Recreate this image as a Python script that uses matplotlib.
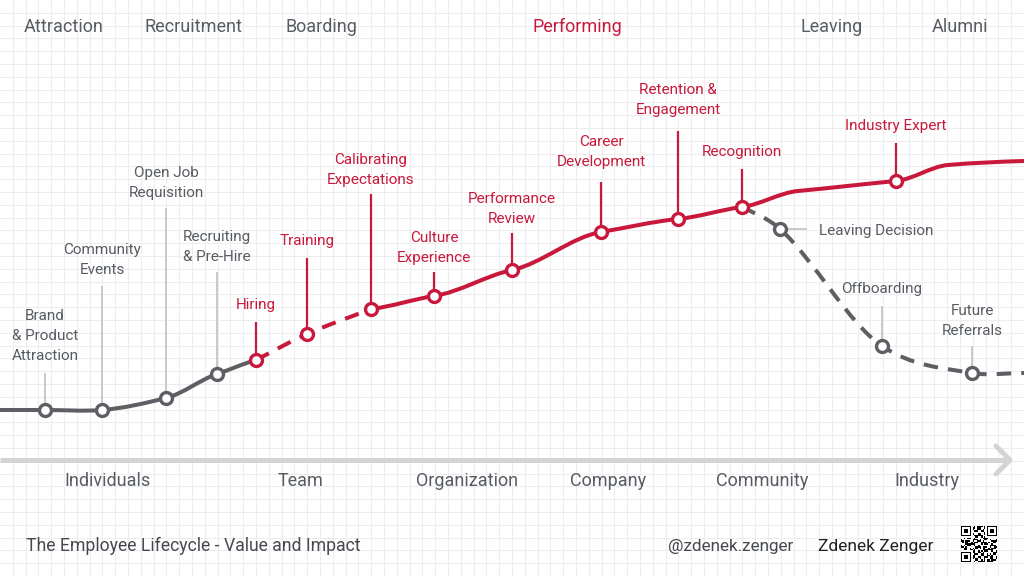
import numpy as np
import matplotlib
matplotlib.use("Agg")
import matplotlib.pyplot as plt
from matplotlib.path import Path
from matplotlib.patches import PathPatch

# ---------------- data ----------------
stages = ["Attraction", "Recruitment", "Boarding", "Performing", "Leaving", "Alumni"]
stage_x = [64, 193, 321, 577, 832, 960]
scopes = ["Individuals", "Team", "Organization", "Company", "Community", "Industry"]
scope_x = [108, 301, 467, 608, 762, 927]

# value curves (x = position along lifecycle, v = value/impact)
early_x = [0, 45, 102, 166, 217, 256]
early_v = [166, 166, 166, 178, 202, 216]
onboard_x = [256, 307, 371]
onboard_v = [216, 242, 267]
growth_x = [371, 434, 512, 601, 678, 742, 798, 896, 948, 1024]
growth_v = [267, 280, 306, 344, 357, 369, 385, 395, 411, 415]
exit_x = [742, 780, 882, 972, 1024]
exit_v = [369, 347, 230, 203, 203]

milestones = ["Brand\n& Product\nAttraction", "Community\nEvents", "Open Job\nRequisition",
              "Recruiting\n& Pre-Hire", "Hiring", "Training", "Calibrating\nExpectations",
              "Culture\nExperience", "Performance\nReview", "Career\nDevelopment",
              "Retention &\nEngagement", "Recognition", "Industry Expert",
              "Leaving Decision", "Offboarding", "Future\nReferrals"]
milestone_x = [45, 102, 166, 217, 256, 307, 371, 434, 512, 601, 678, 742, 896, 780, 882, 972]
milestone_v = [166, 166, 178, 202, 216, 242, 267, 280, 306, 344, 357, 369, 395, 347, 230, 203]
milestone_red = [False, False, False, False, True, True, True, True, True, True, True, True, True,
                 False, False, False]

title = "The Employee Lifecycle - Value and Impact"
handle = "@zdenek.zenger"
author = "Zdenek Zenger"

# ---------------- style ----------------
RED = "#c8193c"
GRAY = "#5e5f64"
TXT = "#575c63"
LEAD = "#c8c8c8"
FONT = ["Roboto", "DejaVu Sans"]
W, H = 1024, 576
TSHIFT = 2  # text baseline nudge (px, downward)

def Y(px):
    return H - px

fig = plt.figure(figsize=(10.24, 5.76), dpi=100)
ax = fig.add_axes([0, 0, 1, 1])
ax.set_xlim(0, W)
ax.set_ylim(0, H)
ax.axis("off")
fig.patch.set_facecolor("white")

# grid background
step = 12.8
for k in range(1, 80):
    ax.axvline(k * step, color="#ededed", lw=0.8, zorder=0)
for k in range(1, 45):
    ax.axhline(H - k * step, color="#ededed", lw=0.8, zorder=0)


def smooth_path(xs, vs, k):
    xs = np.asarray(xs, float)
    vs = np.asarray(vs, float)
    n = len(xs)
    m = np.zeros(n)
    for i in range(n):
        if i == 0:
            m[i] = (vs[1] - vs[0]) / (xs[1] - xs[0])
        elif i == n - 1:
            m[i] = (vs[-1] - vs[-2]) / (xs[-1] - xs[-2])
        else:
            m[i] = (vs[i + 1] - vs[i - 1]) / (xs[i + 1] - xs[i - 1])
    m *= k
    verts = [(xs[0], vs[0])]
    codes = [Path.MOVETO]
    for i in range(n - 1):
        dx = xs[i + 1] - xs[i]
        verts += [(xs[i] + dx / 3, vs[i] + m[i] * dx / 3),
                  (xs[i + 1] - dx / 3, vs[i + 1] - m[i + 1] * dx / 3),
                  (xs[i + 1], vs[i + 1])]
        codes += [Path.CURVE4] * 3
    return Path(verts, codes)


LW = 2.9
def curve(xs, vs, color, k, dashed=False, z=3):
    ls = (0, (3.6, 2.5)) if dashed else "-"
    p = PathPatch(smooth_path(xs, vs, k), facecolor="none", edgecolor=color, lw=LW,
                  linestyle=ls, capstyle="butt", joinstyle="round", zorder=z)
    ax.add_patch(p)

curve(early_x, early_v, GRAY, 0.8)
curve(onboard_x, onboard_v, RED, 1.0, dashed=True)
curve(growth_x, growth_v, RED, 0.55)
curve(exit_x, exit_v, GRAY, 0.9, dashed=True, z=2)

# label layout: (leader length px, gap from leader top to last text line centre px)
layout = {
    "Brand\n& Product\nAttraction": (37, 19),
    "Community\nEvents": (124, 18),
    "Open Job\nRequisition": (190, 17),
    "Recruiting\n& Pre-Hire": (102, 17),
    "Hiring": (38, 19),
    "Training": (76, 19),
    "Calibrating\nExpectations": (115, 16),
    "Culture\nExperience": (24, 16),
    "Performance\nReview": (37, 16),
    "Career\nDevelopment": (50, 22),
    "Retention &\nEngagement": (88, 23),
    "Recognition": (38, 19),
    "Industry Expert": (38, 19),
    "Offboarding": (40, 19),
    "Future\nReferrals": (27, 17),
}
LSP = 20
for name, x, v, red in zip(milestones, milestone_x, milestone_v, milestone_red):
    col = RED if red else GRAY
    tcol = RED if red else TXT
    lcol = RED if red else LEAD
    ax.plot([x], [v], marker="o", ms=8.6, mfc="white", mec=col, mew=2.4, zorder=5)
    if name in layout:
        L, g = layout[name]
        ax.plot([x, x], [v + 6, v + L], color=lcol, lw=1.6 if red else 1.4,
                solid_capstyle="butt", zorder=1)
        lines = name.split("\n")
        n = len(lines)
        base = v + L + g - TSHIFT
        for i, ln in enumerate(lines):
            ax.text(x, base + (n - 1 - i) * LSP, ln, ha="center", va="center",
                    fontsize=11, color=tcol, family=FONT, zorder=6)
    else:
        # horizontal leader to the right
        ax.plot([x + 7, x + 26], [v, v], color=lcol, lw=1.4, zorder=1)
        ax.text(x + 39, v - TSHIFT, name, ha="left", va="center", fontsize=11, color=tcol,
                family=FONT, zorder=6)

# stage headers
for s, x in zip(stages, stage_x):
    ax.text(x, Y(25) - TSHIFT, s, ha="center", va="center", fontsize=13,
            color=RED if s == "Performing" else TXT, family=FONT)

# baseline arrow
ax.plot([0, 1008], [Y(460), Y(460)], color="#d4d4d4", lw=3.6, solid_capstyle="butt", zorder=1)
ax.plot([996, 1010, 996], [Y(446), Y(460), Y(474)], color="#d4d4d4", lw=3.6,
        solid_capstyle="round", solid_joinstyle="round", zorder=1)

for s, x in zip(scopes, scope_x):
    ax.text(x, Y(479) - TSHIFT, s, ha="center", va="center", fontsize=13, color=TXT, family=FONT)

# footer
ax.text(26, Y(544) - TSHIFT, title, ha="left", va="center", fontsize=12.7, color="#45494f", family=FONT)
ax.text(731, Y(544) - TSHIFT, handle, ha="center", va="center", fontsize=12.3, color="#45494f", family=FONT)
ax.text(876, Y(544) - TSHIFT, author, ha="center", va="center", fontsize=12.5, color="#202226", family=FONT)

# QR-code-like glyph
N = 25
qr = np.zeros((N, N))
seed = (handle * 60).encode()
bits = np.unpackbits(np.frombuffer(seed, dtype=np.uint8))
qr[:, :] = bits[: N * N].reshape(N, N)
qr[::2, 1::3] = 1 - qr[::2, 1::3]
def finder(r, c):
    qr[r:r + 8, c:c + 8] = 0
    qr[r:r + 7, c:c + 7] = 1
    qr[r + 1:r + 6, c + 1:c + 6] = 0
    qr[r + 2:r + 5, c + 2:c + 5] = 1
finder(0, 0)
finder(0, N - 7)
finder(N - 7, 0)
qr[0:8, 7] = 0; qr[7, 0:8] = 0
qr[0:8, N - 8] = 0; qr[7, N - 8:] = 0
qr[N - 8:, 7] = 0; qr[N - 8, 0:8] = 0
ax.imshow(qr, cmap="gray_r", interpolation="nearest", extent=[961, 997, Y(562), Y(526)],
          aspect="auto", zorder=4)
ax.set_xlim(0, W)
ax.set_ylim(0, H)

fig.savefig("out.png", dpi=100, facecolor="white")
